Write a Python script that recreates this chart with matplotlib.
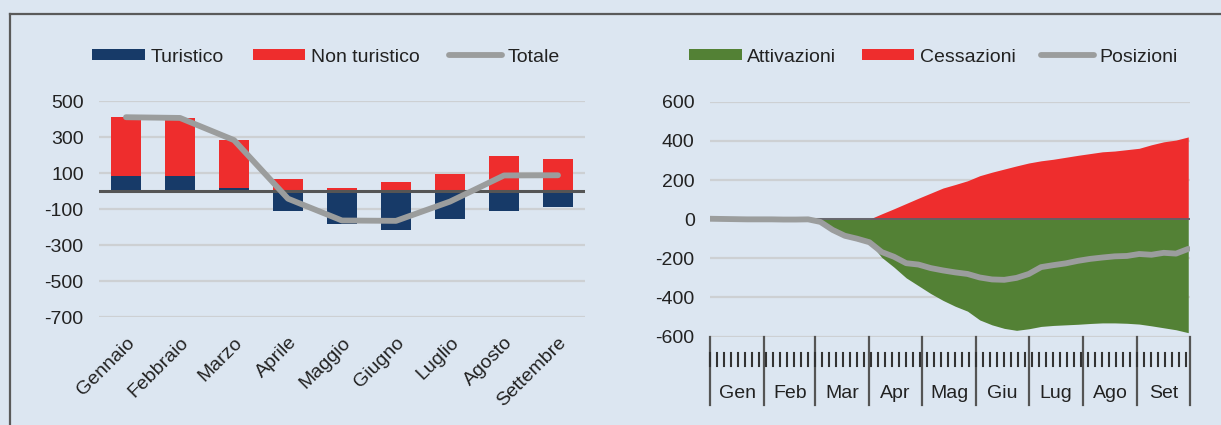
import numpy as np
import matplotlib
matplotlib.use("Agg")
import matplotlib.pyplot as plt
from matplotlib.patches import Patch
from matplotlib.lines import Line2D

# ---- left panel: monthly balance by sector
mesi = ['Gennaio', 'Febbraio', 'Marzo', 'Aprile', 'Maggio', 'Giugno',
        'Luglio', 'Agosto', 'Settembre']
turistico = [86, 85, 18, -109, -183, -217, -152, -109, -89]
non_turistico = [324, 321, 265, 67, 20, 50, 94, 194, 178]
totale = [410, 406, 283, -42, -163, -165, -58, 87, 88]

# ---- right panel: cumulative daily series (read every 7 days, day 0 = 1 Jan)
giorni = [0, 7, 14, 21, 28, 35, 42, 49, 56, 63, 70, 77, 84, 91, 98, 105, 112,
          119, 126, 133, 140, 147, 154, 161, 168, 175, 182, 189, 196, 203,
          210, 217, 224, 231, 238, 245, 252, 259, 266, 273]
attivazioni = [0, 0, 0, 0, 0, 0, 0, 0, 0, -12, -45, -72, -95, -118, -195,
               -245, -300, -340, -380, -415, -445, -470, -515, -540, -558,
               -568, -560, -548, -543, -540, -537, -533, -530, -530, -532,
               -536, -545, -555, -565, -580]
cessazioni = [0, 0, 0, 0, 0, 0, 0, 0, 0, -2, -10, -13, -5, 0, 27, 53, 80,
              107, 133, 159, 177, 196, 222, 240, 256, 272, 287, 298, 306, 316,
              326, 335, 344, 348, 355, 362, 380, 395, 404, 420]
posizioni = [2, 1, 0, -1, -1, -1, -2, -2, -1, -14, -55, -85, -100, -118,
             -168, -192, -225, -232, -250, -262, -272, -280, -298, -308,
             -310, -300, -280, -245, -235, -226, -213, -203, -196, -190,
             -188, -178, -182, -172, -176, -152]
mesi_brevi = ['Gen', 'Feb', 'Mar', 'Apr', 'Mag', 'Giu', 'Lug', 'Ago', 'Set']
giorni_mese = [31, 29, 31, 30, 31, 30, 31, 31, 30]

BG = '#dce6f1'
NAVY = '#173a68'
RED = '#ee2d2d'
GREEN = '#538135'
GREY = '#9b9d9d'
GRID = '#cdd0d3'
DARK = '#555555'
TXT = '#222222'
FS = 14

plt.rcParams['font.family'] = ['Liberation Sans', 'DejaVu Sans']
plt.rcParams['axes.unicode_minus'] = False

fig = plt.figure(figsize=(12.21, 4.25), dpi=100, facecolor=BG)

# frame lines (top and left)
fig.add_artist(Line2D([10 / 1221, 1], [1 - 14 / 425, 1 - 14 / 425],
                      transform=fig.transFigure, color='#5a5a5a', lw=1.6))
fig.add_artist(Line2D([10 / 1221, 10 / 1221], [0, 1 - 14 / 425],
                      transform=fig.transFigure, color='#5a5a5a', lw=1.6))

# ================= left chart
ax1 = fig.add_axes([99 / 1221, 1 - 317.3 / 425, 486 / 1221, 216.3 / 425])
ax1.set_facecolor(BG)
x = np.arange(len(mesi))
tur = np.array(turistico)
non = np.array(non_turistico)
ax1.bar(x, tur, width=0.55, color=NAVY, zorder=2)
ax1.bar(x, non, width=0.55, bottom=np.where((tur > 0) & (non > 0), tur, 0),
        color=RED, zorder=2)
ax1.plot(x, totale, color=GREY, lw=4.2, solid_capstyle='round',
         solid_joinstyle='round', zorder=4)
ax1.axhline(0, color=DARK, lw=2.2, zorder=3)
ax1.set_xlim(-0.5, len(mesi) - 0.5)
ax1.set_ylim(-700, 500)
ax1.set_yticks(np.arange(-700, 501, 200))
ax1.grid(axis='y', color=GRID, lw=1.6, zorder=0)
ax1.set_axisbelow(True)
ax1.set_xticks(x)
ax1.set_xticklabels(mesi, rotation=45, ha='right', rotation_mode='anchor')
ax1.tick_params(axis='x', length=0, pad=12, labelsize=FS, labelcolor=TXT)
ax1.tick_params(axis='y', length=0, pad=11, labelsize=FS, labelcolor=TXT)
for s in ax1.spines.values():
    s.set_visible(False)

h1 = [Patch(facecolor=NAVY), Patch(facecolor=RED),
      Line2D([], [], color=GREY, lw=4.2, solid_capstyle='round')]
fig.legend(h1, ['Turistico', 'Non turistico', 'Totale'], ncol=3,
           loc='center', bbox_to_anchor=(326 / 1221, 1 - 57 / 425),
           frameon=False, fontsize=FS, handlelength=2.7, handleheight=0.53,
           handletextpad=0.3, columnspacing=1.5, labelcolor=TXT,
           borderaxespad=0, borderpad=0)

# ================= right chart
ax2 = fig.add_axes([710 / 1221, 1 - 336.6 / 425, 480 / 1221, 234.9 / 425])
ax2.set_facecolor(BG)
d = np.array(giorni)
att = np.array(attivazioni)
ces = np.array(cessazioni)
ax2.fill_between(d, 0, att, color=GREEN, lw=0, zorder=2)
ax2.fill_between(d, att, att + np.minimum(ces, 0), color=RED, lw=0, zorder=2)
ax2.fill_between(d, 0, np.maximum(ces, 0), color=RED, lw=0, zorder=2)
ax2.axhline(0, color='#5f5f66', lw=1.3, zorder=3)
ax2.plot(d, posizioni, color=GREY, lw=4.2, solid_capstyle='round',
         solid_joinstyle='round', zorder=4)
n_giorni = sum(giorni_mese)
ax2.set_xlim(0, n_giorni)
ax2.set_ylim(-600, 600)
ax2.set_yticks(np.arange(-600, 601, 200))
ax2.grid(axis='y', color=GRID, lw=1.6, zorder=0)
ax2.set_axisbelow(True)
ax2.set_xticks([])
ax2.tick_params(axis='y', length=0, pad=11, labelsize=FS, labelcolor=TXT)
for s in ax2.spines.values():
    s.set_visible(False)

# multi-level date axis drawn under the plot
tr = ax2.get_xaxis_transform()
confini = np.concatenate([[0], np.cumsum(giorni_mese)])
for b in confini:
    ax2.plot([b, b], [0, -0.291], transform=tr, color=DARK, lw=1.6,
             clip_on=False)
for t in range(0, n_giorni, 4):
    ax2.plot([t, t], [-0.068, -0.125], transform=tr, color='#333333',
             lw=1.5, clip_on=False)
for i, lab in enumerate(mesi_brevi):
    ax2.text((confini[i] + confini[i + 1]) / 2, -0.241, lab, transform=tr,
             ha='center', va='center', fontsize=FS, color=TXT)

h2 = [Patch(facecolor=GREEN), Patch(facecolor=RED),
      Line2D([], [], color=GREY, lw=4.2, solid_capstyle='round')]
fig.legend(h2, ['Attivazioni', 'Cessazioni', 'Posizioni'], ncol=3,
           loc='center', bbox_to_anchor=(933.5 / 1221, 1 - 57 / 425),
           frameon=False, fontsize=FS, handlelength=2.7, handleheight=0.53,
           handletextpad=0.3, columnspacing=1.3, labelcolor=TXT,
           borderaxespad=0, borderpad=0)

fig.savefig('out.png', dpi=100, facecolor=BG)
